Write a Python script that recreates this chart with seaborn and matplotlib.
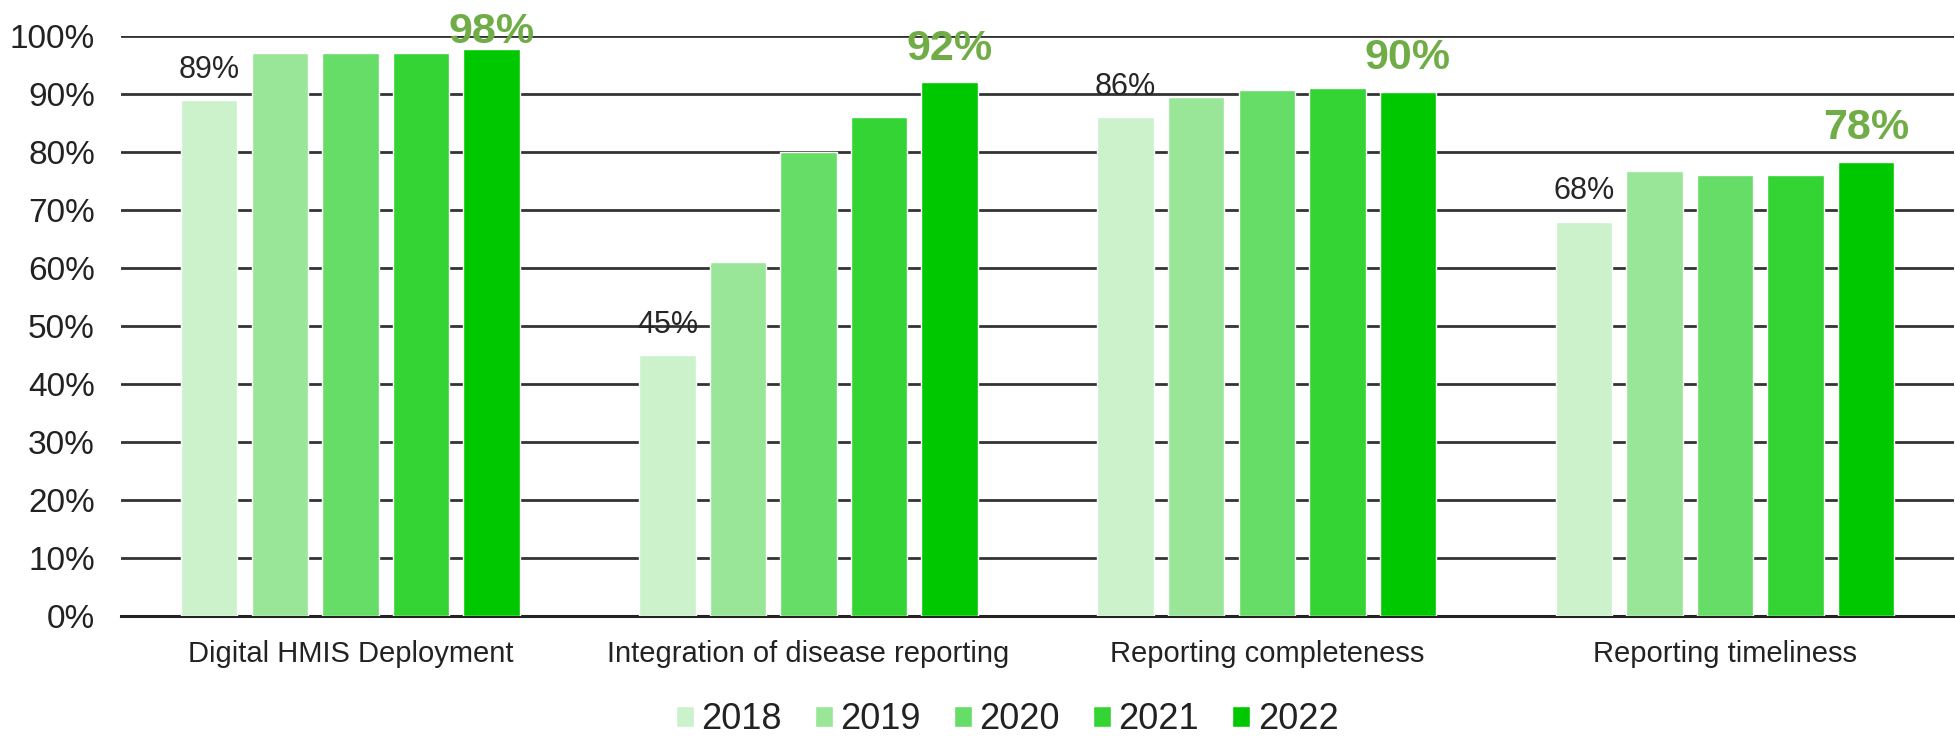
import pandas as pd
import seaborn as sns
import matplotlib.pyplot as plt
from matplotlib.ticker import PercentFormatter

# values (percent)
categories = ["Digital HMIS Deployment", "Integration of disease reporting",
              "Reporting completeness", "Reporting timeliness"]
years = ["2018", "2019", "2020", "2021", "2022"]
v2018 = [89, 45, 86, 68]
v2019 = [97, 61, 89.5, 76.8]
v2020 = [97, 80, 90.7, 76]
v2021 = [97, 86, 91.1, 76]
v2022 = [97.7, 92, 90.4, 78.3]
labels_2018 = ["89%", "45%", "86%", "68%"]
labels_2022 = ["98%", "92%", "90%", "78%"]

colors = ["#ccf2cc", "#99e699", "#66dd66", "#33d433", "#00c800"]

rows = []
for yr, vals in zip(years, [v2018, v2019, v2020, v2021, v2022]):
    for cat, v in zip(categories, vals):
        rows.append({"Category": cat, "Year": yr, "Value": v})
df = pd.DataFrame(rows)

sns.set_theme(style="white")
plt.rcParams['font.family'] = ['Liberation Sans', 'DejaVu Sans']

fig, ax = plt.subplots(figsize=(19.56, 7.36), dpi=100)
fig.subplots_adjust(left=0.062, right=0.999, top=0.951, bottom=0.163)

sns.barplot(data=df, x="Category", y="Value", hue="Year", palette=colors,
            width=0.77, gap=0.2, saturation=1, ax=ax, zorder=3)

ax.set_ylim(0, 100)
ax.set_xlim(-0.5, 3.5)
ax.set_yticks(range(0, 101, 10))
ax.yaxis.set_major_formatter(PercentFormatter(decimals=0))
ax.grid(axis="y", color="#333333", linewidth=2, zorder=0)
ax.set_axisbelow(True)
for s in ["left", "right", "top"]:
    ax.spines[s].set_visible(False)
ax.spines["bottom"].set_color("#222222")
ax.spines["bottom"].set_linewidth(2.2)
ax.set_xlabel("")
ax.set_ylabel("")
ax.tick_params(axis="y", labelsize=24, colors="#222222", length=0, pad=19)
ax.tick_params(axis="x", labelsize=21, colors="#222222", length=0, pad=17)

# labels on first and last year bars
first, last = ax.containers[0], ax.containers[-1]
for bar, txt in zip(first, labels_2018):
    ax.annotate(txt, (bar.get_x() + bar.get_width() / 2, bar.get_height()),
                xytext=(0, 11), textcoords="offset points", ha="center",
                va="bottom", fontsize=22, color="#262626", annotation_clip=False)
for bar, txt in zip(last, labels_2022):
    ax.annotate(txt, (bar.get_x() + bar.get_width() / 2, bar.get_height()),
                xytext=(0, 10 if txt != "98%" else -2), textcoords="offset points",
                ha="center", va="bottom", fontsize=31, fontweight="bold",
                color="#70ad47", annotation_clip=False)

handles, leg_labels = ax.get_legend_handles_labels()
ax.get_legend().remove()
fig.legend(handles, leg_labels, loc="lower center", bbox_to_anchor=(0.515, -0.046),
           ncol=5, frameon=False, fontsize=26, handlelength=0.5, handleheight=0.5,
           handletextpad=0.2, columnspacing=0.92, labelcolor="#222222")

fig.savefig("out.png", dpi=100)
